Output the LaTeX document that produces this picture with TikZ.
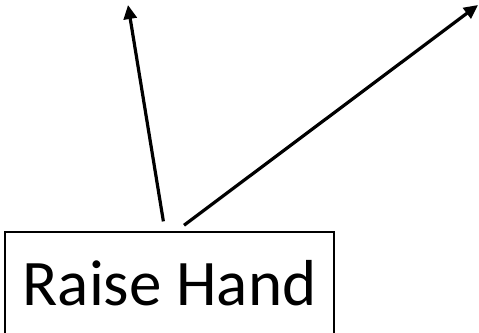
\documentclass[tikz,border=0pt]{standalone}
\usepackage{fontspec}
\setmainfont{Carlito}
\usetikzlibrary{arrows.meta, positioning}

\begin{document}
\begin{tikzpicture}[x=1pt, y=1pt,
        action/.style={rectangle, draw, line width=1.5pt, minimum width=329pt, minimum height=102pt, inner sep=0pt, font=\fontsize{65}{78}\selectfont},
        line/.style={draw, -{Triangle[length=14pt, width=13pt]}, line width=3.2pt, shorten <=10pt}]

        \useasboundingbox (0,0) rectangle (479,332);

        \node [action] (hand) at (169.5,49) {\raisebox{-7pt}{Raise Hand}};
        \coordinate (left) at (128,327);
        \coordinate (right) at (478,327);

        \path [line] ([xshift=-4.5pt]hand.north) -- (left);
        \path [line] ([xshift=6.5pt]hand.north) -- (right);
    \end{tikzpicture}
\end{document}
